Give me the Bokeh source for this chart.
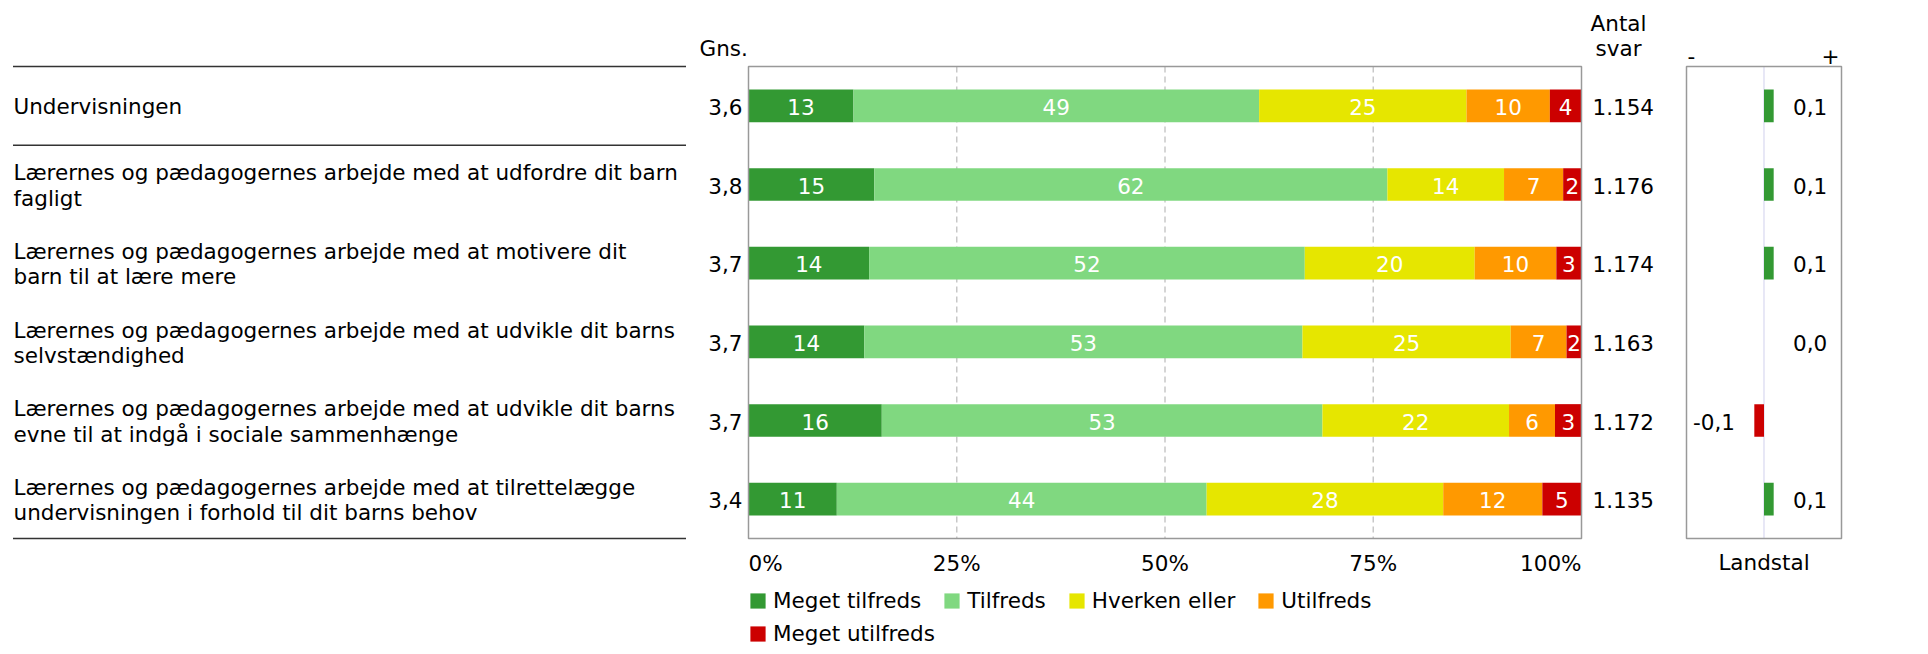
from bokeh.plotting import figure
from bokeh.models import Range1d, Legend, LegendItem
from bokeh.layouts import row
from bokeh.embed import file_html
from bokeh.resources import INLINE
from bokeh.core.properties import value

# ---------------- data ----------------
questions = [
    "Undervisningen",
    "Lærernes og pædagogernes arbejde med at udfordre dit barn\nfagligt",
    "Lærernes og pædagogernes arbejde med at motivere dit\nbarn til at lære mere",
    "Lærernes og pædagogernes arbejde med at udvikle dit barns\nselvstændighed",
    "Lærernes og pædagogernes arbejde med at udvikle dit barns\nevne til at indgå i sociale sammenhænge",
    "Lærernes og pædagogernes arbejde med at tilrettelægge\nundervisningen i forhold til dit barns behov",
]
response_labels = ["Meget tilfreds", "Tilfreds", "Hverken eller", "Utilfreds", "Meget utilfreds"]
meget_tilfreds = [12.6, 15.1, 14.48, 13.9, 16.0, 10.6]
tilfreds = [48.7, 61.6, 52.3, 52.6, 52.9, 44.4]
hverken_eller = [24.9, 14.0, 20.4, 25.0, 22.4, 28.4]
utilfreds = [10.0, 7.1, 9.8, 6.7, 5.52, 11.9]
meget_utilfreds = [3.8, 2.2, 3.02, 1.8, 3.18, 4.7]
gns = [3.6, 3.8, 3.7, 3.7, 3.7, 3.4]
antal_svar = [1154, 1176, 1174, 1163, 1172, 1135]
landstal = [0.1, 0.1, 0.1, 0.0, -0.1, 0.1]
tick_values = [0, 25, 50, 75, 100]
tick_labels = ["0%", "25%", "50%", "75%", "100%"]

series = [meget_tilfreds, tilfreds, hverken_eller, utilfreds, meget_utilfreds]
colors = ["#339933", "#80d880", "#e6e600", "#ff9900", "#cc0000"]

# ---------------- layout constants ----------------
FONT = value("DejaVu Sans")
FS = "21.5px"
FIG_H = 646
FRAME_TOP = 66
N = len(questions)
ROW_PX = 472 / N
Y_TOP = -0.5 - FRAME_TOP / ROW_PX
Y_BOTTOM = -0.5 + (FIG_H - FRAME_TOP) / ROW_PX
rows_y = list(range(N))
BAR_H = 0.416
TXT = dict(text_font=FONT, text_font_size=FS, text_baseline="middle")


def make_fig(width, x0, x1):
    p = figure(width=width, height=FIG_H, x_range=Range1d(x0, x1),
               y_range=Range1d(Y_BOTTOM, Y_TOP), output_backend="svg",
               toolbar_location=None, x_axis_location=None, y_axis_location=None,
               min_border=0, outline_line_color=None)
    p.min_border_left = p.min_border_right = 0
    p.min_border_top = p.min_border_bottom = 0
    p.grid.visible = False
    p.border_fill_color = "white"
    p.background_fill_color = "white"
    return p


# ---------------- A: question labels ----------------
A_W = 698
pA = make_fig(A_W, 0, A_W)
sep_y = [-0.5, 0.5, N - 0.5]
pA.segment(x0=[12.5] * len(sep_y), x1=[685.5] * len(sep_y), y0=sep_y, y1=sep_y,
           line_color="#333333", line_width=1.5)
pA.text(x=[13] * N, y=rows_y, text=questions, text_align="left",
        text_line_height=1.02, text_color="black", y_offset=1, **TXT)

# ---------------- B: stacked bars ----------------
B_W = 972
B_LEFT = 50
PCT_PX = 8.33
bx0 = -B_LEFT / PCT_PX
pB = make_fig(B_W, bx0, bx0 + B_W / PCT_PX)

grid_x = tick_values[1:-1]
pB.segment(x0=grid_x, x1=grid_x, y0=[-0.5] * len(grid_x), y1=[N - 0.5] * len(grid_x),
           line_color="#c8c8c8", line_width=1.5, line_dash="6 4")

renderers = []
lefts = [0.0] * N
for vals, col in zip(series, colors):
    rights = [l + v for l, v in zip(lefts, vals)]
    r = pB.hbar(y=rows_y, left=lefts, right=rights, height=BAR_H,
                fill_color=col, line_color=None)
    renderers.append(r)
    mids = [(l + rr) / 2 for l, rr in zip(lefts, rights)]
    pB.text(x=mids, y=rows_y, text=[f"{v:.0f}" for v in vals], text_align="center",
            text_color="white", y_offset=1, **TXT)
    lefts = rights

pB.quad(left=[0], right=[100], bottom=[-0.5], top=[N - 0.5], fill_color=None,
        line_color="#999999", line_width=1.5)

# Gns. column
pB.text(x=[0] * N, y=rows_y, text=[f"{g:.1f}".replace(".", ",") for g in gns],
        x_offset=-6, y_offset=1, text_align="right", text_color="black", **TXT)
pB.text(x=[0], y=[-0.5], text=["Gns."], x_offset=-49, y_offset=-18,
        text_align="left", text_color="black", **TXT)

# Antal svar column
pB.text(x=[100] * N, y=rows_y, text=[f"{a:,}".replace(",", ".") for a in antal_svar],
        x_offset=11, y_offset=1, text_align="left", text_color="black", **TXT)
pB.text(x=[100, 100], y=[-0.5, -0.5], text=["Antal", "svar"], x_offset=37,
        y_offset=[-43.5, -18.5], text_align="center", text_color="black", **TXT)

# tick labels
aligns = ["left"] + ["center"] * (len(tick_values) - 2) + ["right"]
for tv, tl, al in zip(tick_values, tick_labels, aligns):
    pB.text(x=[tv], y=[N - 0.5], text=[tl], y_offset=25, text_align=al,
            text_color="black", **TXT)


def make_legend(items, loc):
    return Legend(items=items, orientation="horizontal", location=loc,
                  glyph_width=19, glyph_height=19, label_standoff=6, spacing=21,
                  padding=0, margin=0, border_line_color=None, background_fill_alpha=0,
                  label_text_font="DejaVu Sans", label_text_font_size=FS,
                  label_text_color="black")


items = [LegendItem(label=lab, renderers=[r]) for lab, r in zip(response_labels, renderers)]
pB.add_layout(make_legend(items[:4], (B_LEFT, 33)))
pB.add_layout(make_legend(items[4:], (B_LEFT, 0)))

# ---------------- C: Landstal ----------------
C_W = 250
C_LEFT = 16
C_FRAME = 155
LAND_MAX = 0.8
UNIT_PX = C_FRAME / (2 * LAND_MAX)
cx0 = -LAND_MAX - C_LEFT / UNIT_PX
pC = make_fig(C_W, cx0, cx0 + C_W / UNIT_PX)

pC.segment(x0=[0], x1=[0], y0=[-0.5], y1=[N - 0.5], line_color="#d8d8f0", line_width=1.2)
bar_cols = ["#339933" if v >= 0 else "#cc0000" for v in landstal]
pC.hbar(y=rows_y, left=[0] * N, right=landstal, height=BAR_H, fill_color=bar_cols,
        line_color=None)
pC.quad(left=[-LAND_MAX], right=[LAND_MAX], bottom=[-0.5], top=[N - 0.5],
        fill_color=None, line_color="#999999", line_width=1.5)

pos_y = [y for y, v in zip(rows_y, landstal) if v >= 0]
pos_t = [f"{v:.1f}".replace(".", ",") for v in landstal if v >= 0]
neg_y = [y for y, v in zip(rows_y, landstal) if v < 0]
neg_t = [f"{v:.1f}".replace(".", ",") for v in landstal if v < 0]
pC.text(x=[0] * len(pos_y), y=pos_y, text=pos_t, x_offset=29, y_offset=1,
        text_align="left", text_color="black", **TXT)
pC.text(x=[0] * len(neg_y), y=neg_y, text=neg_t, x_offset=-29, y_offset=1,
        text_align="right", text_color="black", **TXT)
pC.text(x=[-LAND_MAX], y=[-0.5], text=["-"], x_offset=1, y_offset=-11,
        text_align="left", text_color="black", **TXT)
pC.text(x=[LAND_MAX], y=[-0.5], text=["+"], x_offset=-2, y_offset=-11,
        text_align="right", text_color="black", **TXT)
pC.text(x=[0], y=[N - 0.5], text=["Landstal"], y_offset=24, text_align="center",
        text_color="black", **TXT)

layout = row(pA, pB, pC)
open("out.html", "w").write(file_html(layout, INLINE))
